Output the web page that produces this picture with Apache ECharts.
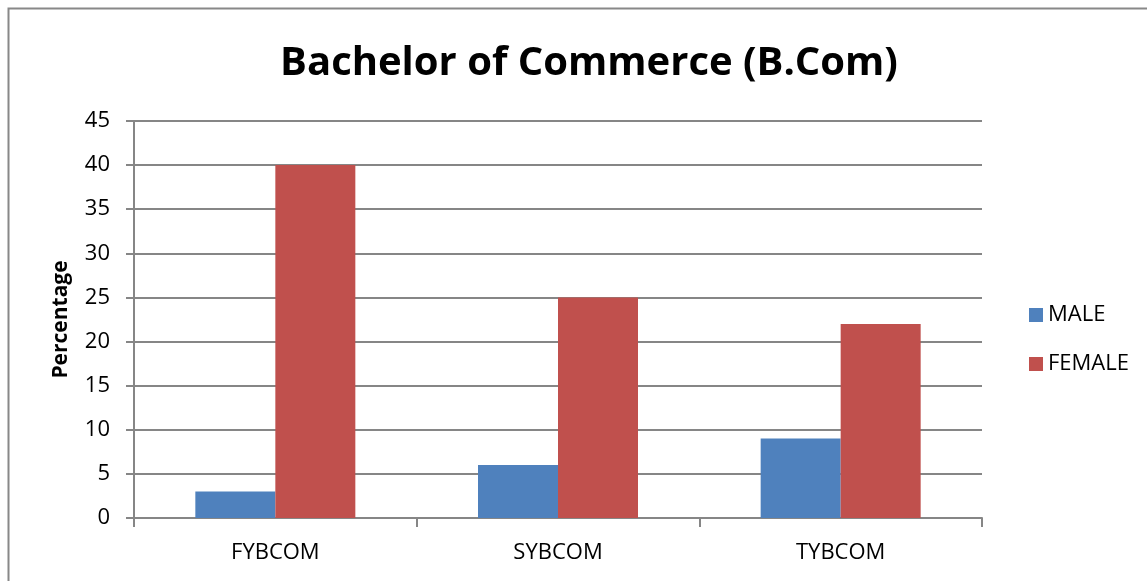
<!DOCTYPE html>
<html>
<head>
<meta charset="utf-8">
<script src="https://cdn.jsdelivr.net/npm/echarts@6/dist/echarts.min.js"></script>
<style>
  html, body { margin: 0; padding: 0; background: #fff; }
  #chart { width: 1147px; height: 581px; }
</style>
</head>
<body>
<div id="chart"></div>
<script>
const categories = ['FYBCOM', 'SYBCOM', 'TYBCOM'];
const maleValues = [3, 6, 9];
const femaleValues = [40, 25, 22];

const chart = echarts.init(document.getElementById('chart'));
const font = '"Open Sans", "Liberation Sans", sans-serif';

chart.setOption({
  animation: false,
  textStyle: { fontFamily: font },
  title: {
    text: 'Bachelor of Commerce (B.Com)',
    left: 584,
    top: 39,
    textAlign: 'center',
    textStyle: { fontSize: 40, fontWeight: 'bold', color: '#000', fontFamily: font },
  },
  graphic: [
    {
      type: 'rect',
      shape: { x: 8.5, y: 8.5, width: 1200, height: 700 },
      style: { fill: 'none', stroke: '#888', lineWidth: 2 },
      silent: true,
    },
  ],
  legend: {
    orient: 'vertical',
    left: 1024,
    top: 299,
    icon: 'rect',
    itemWidth: 14,
    itemHeight: 14,
    itemGap: 27,
    textStyle: { fontSize: 22, color: '#000', fontFamily: font },
    data: ['MALE', 'FEMALE'],
  },
  grid: { left: 134, right: 165, top: 121, bottom: 63 },
  xAxis: {
    type: 'category',
    data: categories,
    axisLine: { lineStyle: { color: '#868686', width: 2 } },
    axisTick: { show: true, length: 9, lineStyle: { color: '#868686', width: 2 } },
    axisLabel: { fontSize: 22, color: '#000', margin: 24 },
  },
  yAxis: {
    type: 'value',
    min: 0,
    max: 45,
    interval: 5,
    name: 'Percentage',
    nameLocation: 'middle',
    nameGap: 62,
    nameRotate: 90,
    nameTextStyle: { fontSize: 21, fontWeight: 'bold', color: '#000' },
    axisLine: { show: true, lineStyle: { color: '#868686', width: 2 } },
    axisTick: { show: true, length: 8, lineStyle: { color: '#868686', width: 2 } },
    axisLabel: { fontSize: 22, color: '#000', margin: 24 },
    splitLine: { lineStyle: { color: '#868686', width: 2 } },
  },
  series: [
    {
      name: 'MALE',
      type: 'bar',
      data: maleValues,
      barWidth: 80,
      barGap: '0%',
      itemStyle: { color: '#4F81BD' },
    },
    {
      name: 'FEMALE',
      type: 'bar',
      data: femaleValues,
      barWidth: 80,
      itemStyle: { color: '#C0504D' },
    },
  ],
});
</script>
</body>
</html>
